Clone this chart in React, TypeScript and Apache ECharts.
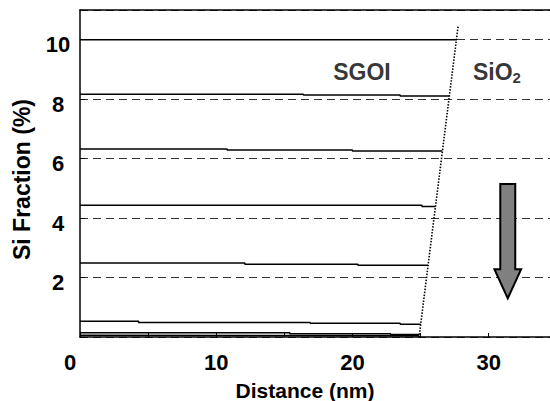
import React, { useEffect, useRef } from "react";
import * as echarts from "echarts";

// Axis ranges
const X_MIN = 0;
const X_MAX = 34.5;
const X_INTERVAL = 5;
const Y_MIN = 0;
const Y_MAX = 11;
const Y_INTERVAL = 2;

const X_TITLE = "Distance (nm)";
const Y_TITLE = "Si Fraction (%)";

// Si fraction profiles inside SGOI layer [distance nm, Si %]
const profile10 = [[0, 10.0], [27.65, 10.0]];
const profile8 = [[0, 8.17], [16.4, 8.17], [16.4, 8.14], [23.5, 8.14], [23.5, 8.11], [27.11, 8.11]];
const profile6 = [[0, 6.32], [10.8, 6.32], [10.8, 6.29], [20.0, 6.29], [20.0, 6.26], [26.6, 6.26]];
const profile4 = [[0, 4.43], [25.1, 4.43], [25.1, 4.39], [26.09, 4.39]];
const profile2 = [[0, 2.49], [12.1, 2.49], [12.1, 2.45], [20.4, 2.45], [20.4, 2.41], [25.55, 2.41]];
const profile05 = [[0, 0.53], [4.3, 0.53], [4.3, 0.49], [16.9, 0.49], [16.9, 0.46], [23.5, 0.46], [23.5, 0.43], [25.01, 0.43]];
const profile01 = [[0, 0.14], [15.4, 0.14], [15.4, 0.11], [22.8, 0.11], [22.8, 0.08], [24.91, 0.08]];
const profile00 = [[0, 0.06], [24.9, 0.04]];
const profiles = [profile10, profile8, profile6, profile4, profile2, profile05, profile01, profile00];

// SGOI / SiO2 interface (dotted)
const interfaceLine = [[27.75, 10.44], [24.89, 0]];

// Region labels [x, y]
const sgoiLabelPos = [20.7, 8.92];
const sio2LabelPos = [30.6, 8.92];

// Arrow (data units)
const ARROW_X = 31.4;
const ARROW_TOP = 5.15;
const ARROW_HEAD = 2.28;
const ARROW_TIP = 1.3;
const ARROW_SHAFT_HALF = 0.55;
const ARROW_HEAD_HALF = 0.98;

const FONT = "'Liberation Sans', Arial, sans-serif";

export default function App() {
  const ref = useRef<HTMLDivElement>(null);
  useEffect(() => {
    if (!ref.current) return;
    const chart = echarts.init(ref.current, null, { renderer: "svg" });

    const lineSeries = profiles.map((p) => ({
      type: "line",
      data: p,
      showSymbol: false,
      symbol: "none",
      lineStyle: { color: "#000", width: 1.5 },
      z: 3,
    }));

    const option: any = {
      animation: false,
      backgroundColor: "#fff",
      grid: { left: 80, top: 10, right: 0, bottom: 64, containLabel: false, outerBoundsMode: "none" },
      xAxis: [
        {
          type: "value",
          min: X_MIN,
          max: X_MAX,
          interval: X_INTERVAL,
          position: "bottom",
          name: X_TITLE,
          nameLocation: "middle",
          nameGap: 43,
          nameTextStyle: {
            fontFamily: FONT,
            fontWeight: "bold",
            fontSize: 21,
            color: "#000",
            padding: [0, 20, 0, 0],
          },
          axisLine: { show: true, onZero: false, lineStyle: { color: "#000", width: 1.5 } },
          axisTick: { show: true, inside: true, length: 4, lineStyle: { color: "#000", width: 1 } },
          axisLabel: {
            margin: 14,
            fontFamily: FONT,
            fontWeight: "bold",
            fontSize: 22,
            color: "#000",
            showMaxLabel: false,
            formatter: (v: number) => {
              if (v === 0) return "{z|0}";
              return v % 10 === 0 ? String(v) : "";
            },
            rich: {
              z: { fontFamily: FONT, fontWeight: "bold", fontSize: 22, color: "#000", padding: [0, 20, 0, 0] },
            },
          },
          splitLine: { show: false },
        },
        {
          type: "value",
          min: X_MIN,
          max: X_MAX,
          position: "top",
          axisLine: { show: true, onZero: false, lineStyle: { color: "#000", width: 1.5 } },
          axisTick: { show: false },
          axisLabel: { show: false },
          splitLine: { show: false },
        },
      ],
      yAxis: {
        type: "value",
        min: Y_MIN,
        max: Y_MAX,
        interval: Y_INTERVAL,
        name: Y_TITLE,
        nameLocation: "middle",
        nameGap: 47,
        nameRotate: 90,
        nameTextStyle: {
          fontFamily: FONT,
          fontWeight: "bold",
          fontSize: 23,
          color: "#000",
          padding: [0, 12, 0, 0],
        },
        axisLine: { show: true, onZero: false, lineStyle: { color: "#000", width: 1.5 } },
        axisTick: { show: true, inside: true, length: 5, lineStyle: { color: "#000", width: 1 } },
        axisLabel: {
          margin: 22,
          align: "center",
          fontFamily: FONT,
          fontWeight: "bold",
          fontSize: 22,
          color: "#000",
          showMaxLabel: false,
          formatter: (v: number) => (v === 0 || v % 2 !== 0 ? "" : `{v|${v}}`),
          rich: {
            v: { fontFamily: FONT, fontWeight: "bold", fontSize: 22, color: "#000", padding: [10, 0, 0, 0] },
          },
        },
        splitLine: { show: true, lineStyle: { color: "#333", width: 1, type: [8, 5] } },
      },
      series: [
        ...lineSeries,
        {
          type: "line",
          data: interfaceLine,
          showSymbol: false,
          symbol: "none",
          lineStyle: { color: "#000", width: 1.6, type: [1.5, 1.5] },
          z: 4,
        },
        {
          type: "scatter",
          data: [sgoiLabelPos],
          symbolSize: 1,
          itemStyle: { color: "rgba(0,0,0,0)" },
          label: {
            show: true,
            position: "inside",
            formatter: "SGOI",
            fontFamily: FONT,
            fontWeight: "bold",
            fontSize: 23,
            color: "#000",
          },
          z: 5,
        },
        {
          type: "scatter",
          data: [sio2LabelPos],
          symbolSize: 1,
          itemStyle: { color: "rgba(0,0,0,0)" },
          label: {
            show: true,
            position: "inside",
            formatter: "{a|SiO}{b|2}",
            rich: {
              a: { fontFamily: FONT, fontWeight: "bold", fontSize: 23, color: "#000", lineHeight: 24 },
              b: { fontFamily: FONT, fontWeight: "bold", fontSize: 15, color: "#000", lineHeight: 26, verticalAlign: "bottom" },
            },
          },
          z: 5,
        },
        {
          type: "custom",
          data: [[ARROW_X, ARROW_TOP]],
          clip: false,
          z: 6,
          renderItem: (_params: any, api: any) => {
            const pts = [
              [ARROW_X - ARROW_SHAFT_HALF, ARROW_TOP],
              [ARROW_X + ARROW_SHAFT_HALF, ARROW_TOP],
              [ARROW_X + ARROW_SHAFT_HALF, ARROW_HEAD],
              [ARROW_X + ARROW_HEAD_HALF, ARROW_HEAD],
              [ARROW_X, ARROW_TIP],
              [ARROW_X - ARROW_HEAD_HALF, ARROW_HEAD],
              [ARROW_X - ARROW_SHAFT_HALF, ARROW_HEAD],
            ].map((p) => api.coord(p));
            return {
              type: "polygon",
              shape: { points: pts },
              style: { fill: "#808080", stroke: "#000", lineWidth: 2 },
            };
          },
        },
      ],
    };

    chart.setOption(option);
    return () => chart.dispose();
  }, []);

  return (
    <div
      ref={ref}
      style={{ position: "absolute", left: 0, top: 0, width: 550, height: 401 }}
    />
  );
}
